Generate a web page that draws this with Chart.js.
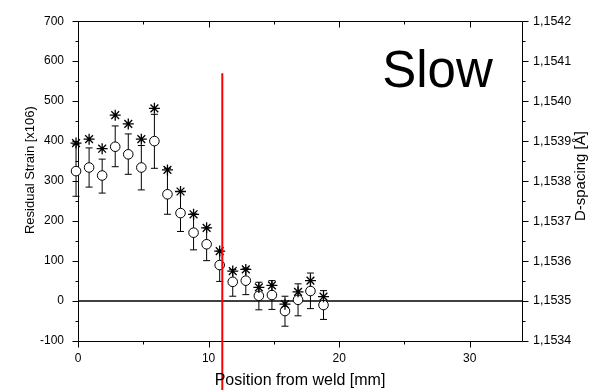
<!DOCTYPE html>
<html><head><meta charset="utf-8">
<script src="https://cdn.jsdelivr.net/npm/chart.js@4.4.1/dist/chart.umd.min.js"></script>
<style>html,body{margin:0;padding:0;background:#fff;}canvas{display:block;}</style>
</head><body>
<canvas id="c" width="602" height="390"></canvas>
<script>
// ---- data ----
const positions = [-0.15,0.85,1.85,2.85,3.85,4.85,5.85,6.85,7.85,8.85,9.85,10.85,11.85,12.85,13.85,14.85,15.85,16.85,17.8,18.8];
const strain     = [325,334,314,386,367,334,400,267,220,171,142,90,48,51,13,15,-25,3,25,-10];
const strainHigh = [392,383,355,438,418,389,467,332,274,218,183,125,79,82,47,51,12,43,70,26];
const strainLow  = [262,285,270,336,317,278,332,217,174,128,101,49,12,16,-22,-21,-63,-37,-19,-46];
const dSpacing   = [1.153895,1.153905,1.153881,1.153965,1.153943,1.153905,1.153982,1.153828,1.153774,1.153717,1.153683,1.153625,1.153575,1.153579,1.153534,1.153539,1.153492,1.153523,1.153551,1.153511];
const xTicks = [0,10,20,30];
const yTicks = [-100,0,100,200,300,400,500,600,700];
const dTicks = [1.1534,1.1535,1.1536,1.1537,1.1538,1.1539,1.1540,1.1541,1.1542];
const weldLimit = 11.05;
const weldLineTop = 570;
const xTitle = 'Position from weld [mm]';
const yTitle = 'Residual Strain [x106)';
const y2Title = 'D-spacing [Å]';
const label = 'Slow';

const FF = "'Liberation Sans', Arial, sans-serif";
Chart.defaults.font.family = FF;
Chart.defaults.font.size = 12;
Chart.defaults.color = '#000';

function mids(a){const r=[];for(let i=0;i<a.length-1;i++)r.push((a[i]+a[i+1])/2);return r;}

const framePlugin = {
  id:'frame',
  beforeDatasetsDraw(chart){
    const c=chart.ctx, a=chart.chartArea, s=chart.scales;
    c.save();
    c.strokeStyle='#000'; c.lineWidth=1;
    const L=Math.round(a.left)+0.5, R=Math.round(a.right)+0.5, T=Math.round(a.top)+0.5, B=Math.round(a.bottom)+0.5;
    c.beginPath();
    c.moveTo(L,T);c.lineTo(L,B);
    c.moveTo(R,T);c.lineTo(R,B);
    c.moveTo(L,B);c.lineTo(R,B);
    c.moveTo(L,T);c.lineTo(R,T);
    xTicks.forEach(v=>{const p=Math.round(s.x.getPixelForValue(v))+0.5;c.moveTo(p,B);c.lineTo(p,B+6);c.moveTo(p,T);c.lineTo(p,T+6);});
    mids(xTicks.concat([40])).forEach(v=>{if(v>s.x.max)return;const p=Math.round(s.x.getPixelForValue(v))+0.5;c.moveTo(p,B);c.lineTo(p,B+3);c.moveTo(p,T);c.lineTo(p,T+3);});
    yTicks.forEach(v=>{const p=Math.round(s.y.getPixelForValue(v))+0.5;c.moveTo(L,p);c.lineTo(L-6,p);});
    mids(yTicks).forEach(v=>{const p=Math.round(s.y.getPixelForValue(v))+0.5;c.moveTo(L,p);c.lineTo(L-3,p);});
    dTicks.forEach(v=>{const p=Math.round(s.y2.getPixelForValue(v))+0.5;c.moveTo(R,p);c.lineTo(R+6,p);});
    mids(dTicks).forEach(v=>{const p=Math.round(s.y2.getPixelForValue(v))+0.5;c.moveTo(R,p);c.lineTo(R+3,p);});
    c.stroke();
    c.lineWidth=1.5;
    const z=s.y.getPixelForValue(0);
    c.beginPath();c.moveTo(a.left,z);c.lineTo(a.right,z);c.stroke();
    c.lineWidth=1;
    positions.forEach((x,i)=>{
      const px=s.x.getPixelForValue(x), t=s.y.getPixelForValue(strainHigh[i]), b=s.y.getPixelForValue(strainLow[i]);
      c.beginPath();c.moveTo(px,t);c.lineTo(px,b);
      c.moveTo(px-3.5,t);c.lineTo(px+3.5,t);
      c.moveTo(px-3.5,b);c.lineTo(px+3.5,b);
      c.stroke();
    });
    c.restore();
  },
  afterDatasetsDraw(chart){
    const c=chart.ctx, a=chart.chartArea, s=chart.scales;
    c.save();
    c.strokeStyle='#ff0000'; c.lineWidth=2;
    const wx=s.x.getPixelForValue(weldLimit);
    c.beginPath();c.moveTo(wx,s.y.getPixelForValue(weldLineTop));c.lineTo(wx,chart.height);c.stroke();
    c.fillStyle='#000';
    c.textAlign='center'; c.textBaseline='middle';
    c.font='16px '+FF;
    c.fillText(xTitle,(a.left+a.right)/2,chart.height-9);
    c.font='13px '+FF;
    c.save();c.translate(30,a.top+(a.bottom-a.top)/2-11);c.rotate(-Math.PI/2);c.fillText(yTitle,0,0);c.restore();
    c.font='15px '+FF;
    c.save();c.translate(chart.width-21,a.top+(a.bottom-a.top)/2-5);c.rotate(-Math.PI/2);c.fillText(y2Title,0,0);c.restore();
    c.font='51px '+FF; c.textAlign='left'; c.textBaseline='alphabetic';
    c.fillText(label,s.x.getPixelForValue(23.3),s.y.getPixelForValue(536));
    c.restore();
  }
};

new Chart(document.getElementById('c'),{
  type:'scatter',
  data:{datasets:[
    {label:'D-spacing',data:positions.map((x,i)=>({x:x,y:dSpacing[i]})),yAxisID:'y2',pointStyle:'star',pointRadius:5.5,pointBorderWidth:1.3,borderColor:'#000',backgroundColor:'#000',order:1,clip:false},
    {label:'Residual strain',data:positions.map((x,i)=>({x:x,y:strain[i]})),yAxisID:'y',pointStyle:'circle',pointRadius:4.8,pointBorderWidth:1,borderColor:'#000',backgroundColor:'#fff',order:2,clip:false}
  ]},
  options:{
    responsive:false,animation:false,devicePixelRatio:1,
    layout:{padding:{top:15,left:0,right:0,bottom:0}},
    plugins:{legend:{display:false},tooltip:{enabled:false}},
    scales:{
      x:{type:'linear',position:'bottom',min:0,max:34,
         grid:{display:false,drawTicks:false},border:{display:false},
         ticks:{padding:10,maxRotation:0,autoSkip:false,font:{size:12}},
         afterBuildTicks(sc){sc.ticks=xTicks.map(v=>({value:v}));},
         afterFit(sc){sc.height=49;}},
      y:{type:'linear',position:'left',min:-100,max:700,
         grid:{display:false,drawTicks:false},border:{display:false},
         ticks:{padding:14,font:{size:12}},
         afterBuildTicks(sc){sc.ticks=yTicks.map(v=>({value:v}));},
         afterFit(sc){sc.width=78;}},
      y2:{type:'linear',position:'right',min:1.1534,max:1.1542,
         grid:{display:false,drawTicks:false},border:{display:false},
         ticks:{padding:11,font:{size:12.5},callback:v=>v.toFixed(4).replace('.',',')},
         afterBuildTicks(sc){sc.ticks=dTicks.map(v=>({value:v}));},
         afterFit(sc){sc.width=80;}}
    }
  },
  plugins:[framePlugin]
});
</script>
</body></html>
